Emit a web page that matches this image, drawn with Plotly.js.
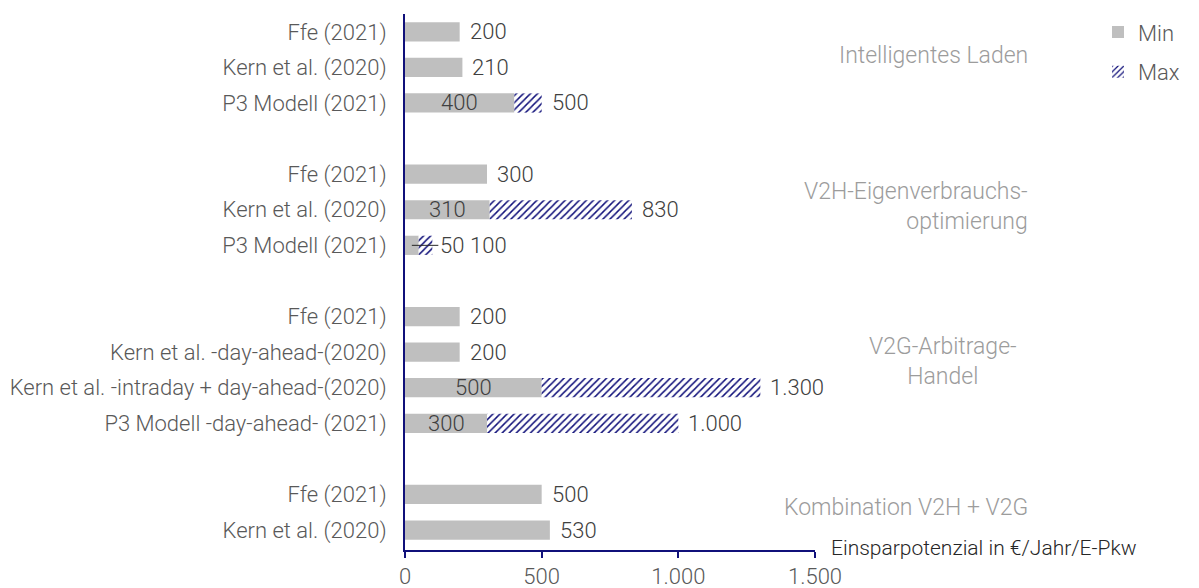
<!DOCTYPE html>
<html>
<head>
<meta charset="utf-8">
<script src="https://cdn.plot.ly/plotly-3.0.1.min.js"></script>
<style>
  html, body { margin: 0; padding: 0; background: #fff; }
  #chart { width: 1199px; height: 588px; }
</style>
</head>
<body>
<div id="chart"></div>
<script>
// Savings potential per use case (€/year/EV), min and max estimates per study
const groups = [
  'Intelligentes Laden',
  'V2H-Eigenverbrauchs-<br>optimierung',
  'V2G-Arbitrage-<br>Handel',
  'Kombination V2H + V2G'
];
const sources = [
  ['Ffe (2021)', 'Kern et al. (2020)', 'P3 Modell (2021)'],
  ['Ffe (2021)', 'Kern et al. (2020)', 'P3 Modell (2021)'],
  ['Ffe (2021)', 'Kern et al. -day-ahead-(2020)', 'Kern et al. -intraday + day-ahead-(2020)', 'P3 Modell -day-ahead- (2021)'],
  ['Ffe (2021)', 'Kern et al. (2020)']
];
const minValues = [
  [200, 210, 400],
  [300, 310, 50],
  [200, 200, 500, 300],
  [500, 530]
];
const maxValues = [
  [null, null, 500],
  [null, 830, 100],
  [null, null, 1300, 1000],
  [null, null]
];
const xTicks = [0, 500, 1000, 1500];
const xTitle = 'Einsparpotenzial in €/Jahr/E-Pkw';

// styling
const FONT = 'Roboto, "Open Sans", sans-serif';
const NAVY = '#10107a';
const GREY_BAR = '#bfbfbf';
const TXT = '#595959';
const VAL = '#404040';
const GROUP_TXT = '#9c9c9c';
const FS = 22;

// layout geometry (pixels)
const W = 1199, H = 588;
const M = { l: 405, r: 384, t: 11, b: 38 };
const X_MAX = 1500;
const plotW = W - M.l - M.r;
const pxPerUnit = plotW / X_MAX;

// flatten rows, leaving an empty slot between groups
const rowY = [], rowLabel = [], rowMin = [], rowMax = [];
let slot = 0;
groups.forEach((g, gi) => {
  sources[gi].forEach((s, si) => {
    rowY.push(slot);
    rowLabel.push(s);
    rowMin.push(minValues[gi][si]);
    rowMax.push(maxValues[gi][si]);
    slot++;
  });
  slot++;
});
const lastSlot = slot - 2;

const fmt = v => v.toLocaleString('de-DE');

const hatchIdx = rowMax.map((v, i) => v == null ? -1 : i).filter(i => i >= 0);

const traces = [
  {
    type: 'bar', orientation: 'h', name: 'Min', legendgroup: 'min',
    y: rowY, x: rowMin, width: 0.54,
    marker: { color: GREY_BAR, line: { width: 0 } },
    hoverinfo: 'x+y', cliponaxis: false
  },
  {
    type: 'bar', orientation: 'h', name: 'Max', legendgroup: 'max',
    y: hatchIdx.map(i => rowY[i]),
    base: hatchIdx.map(i => rowMin[i]),
    x: hatchIdx.map(i => rowMax[i] - rowMin[i]),
    width: 0.54,
    marker: {
      color: '#ffffff',
      line: { width: 0 },
      pattern: { shape: '/', fgcolor: NAVY, bgcolor: '#ffffff', size: 5, solidity: 0.3 }
    },
    hoverinfo: 'x+y', cliponaxis: false
  }
];

// value labels
const annotations = [];
const valFont = { family: FONT, size: FS, color: VAL, weight: 300 };
rowY.forEach((y, i) => {
  const mn = rowMin[i], mx = rowMax[i];
  if (mx == null) {
    annotations.push({ x: mn, y, text: fmt(mn), showarrow: false, xanchor: 'left', xshift: 8, font: valFont });
    return;
  }
  const fitsInside = mn * pxPerUnit > 40;
  if (fitsInside) {
    annotations.push({ x: mn / 2, y, text: fmt(mn), showarrow: false, xanchor: 'center', font: valFont });
    annotations.push({ x: mx, y, text: fmt(mx), showarrow: false, xanchor: 'left', xshift: 8, font: valFont });
  } else {
    // min bar too narrow: label pulled out with a leader line
    annotations.push({
      x: mn / 2, y, text: fmt(mn), showarrow: true, arrowhead: 0, arrowwidth: 1,
      arrowcolor: '#262626', ax: 40, ay: 0, standoff: 0, font: valFont
    });
    annotations.push({ x: mx, y, text: fmt(mx), showarrow: false, xanchor: 'left', xshift: 36, font: valFont });
  }
});

// group captions on the right
const groupY = [0.67, 4.9, 9.27, 13.36];
const groupX = [1030, 1030, 943, 1030];
const groupAlign = ['right', 'right', 'center', 'right'];
groups.forEach((g, gi) => {
  const align = groupAlign[gi];
  annotations.push({
    xref: 'paper', yref: 'y',
    x: (groupX[gi] - M.l) / plotW,
    y: groupY[gi], text: g, showarrow: false,
    xanchor: align, align: align,
    font: { family: FONT, size: 23, color: GROUP_TXT, weight: 300 }
  });
});

// axis title at the end of the value axis
annotations.push({
  xref: 'paper', yref: 'paper', x: 1, y: 0, xanchor: 'left', yanchor: 'middle',
  xshift: 14, yshift: 2,
  text: xTitle, showarrow: false,
  font: { family: FONT, size: 21, color: '#262626', weight: 300 }
});

const layout = {
  width: W, height: H,
  margin: M,
  paper_bgcolor: '#ffffff', plot_bgcolor: '#ffffff',
  separators: ',.',
  barmode: 'overlay',
  font: { family: FONT, size: FS, color: TXT, weight: 300 },
  showlegend: true,
  legend: {
    x: (1098 - M.l) / plotW, y: 1.005, xanchor: 'left', yanchor: 'top',
    font: { family: FONT, size: FS, color: TXT, weight: 300 },
    bgcolor: 'rgba(0,0,0,0)', tracegroupgap: 8
  },
  xaxis: {
    range: [0, X_MAX], tickvals: xTicks, tickformat: ',.0f',
    showgrid: false, zeroline: false,
    showline: true, linecolor: NAVY, linewidth: 2,
    ticks: 'outside', ticklen: 6, tickwidth: 2, tickcolor: NAVY,
    tickfont: { family: FONT, size: FS, color: TXT, weight: 300 },
    fixedrange: true
  },
  yaxis: {
    range: [lastSlot + 0.56, -0.5],
    tickvals: rowY, ticktext: rowLabel,
    showgrid: false, zeroline: false,
    showline: true, linecolor: NAVY, linewidth: 2,
    ticks: '', ticklabelstandoff: 12,
    tickfont: { family: FONT, size: FS, color: TXT, weight: 300 },
    fixedrange: true
  },
  annotations
};

Plotly.newPlot('chart', traces, layout, { displayModeBar: false, staticPlot: true });
</script>
</body>
</html>
